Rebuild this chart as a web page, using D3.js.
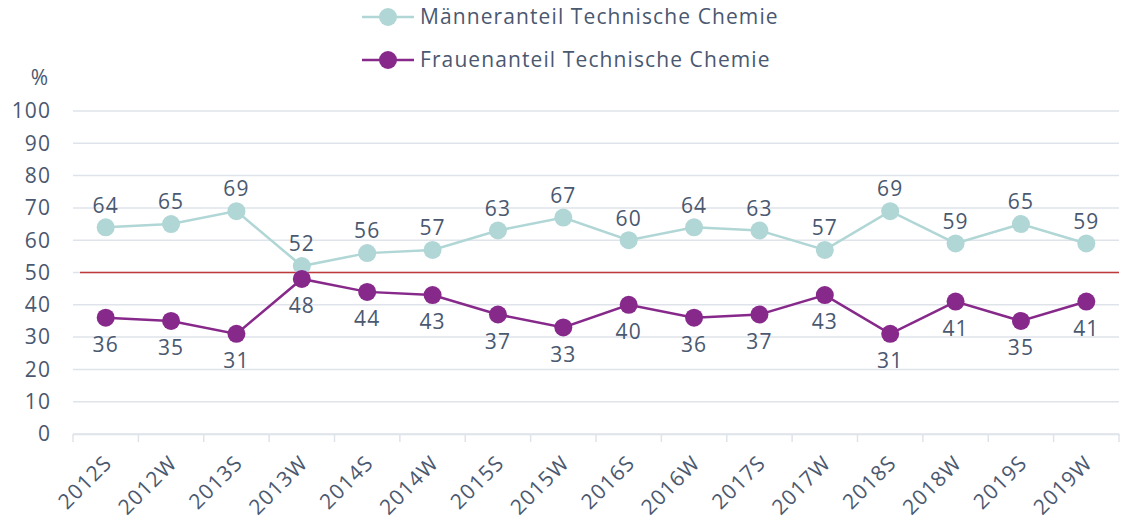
<!DOCTYPE html>
<html>
<head>
<meta charset="utf-8">
<script src="https://cdn.jsdelivr.net/npm/d3@7"></script>
<style>
  body { margin: 0; background: #fff; }
  svg text { font-family: "Open Sans", "Noto Sans", sans-serif; fill: #4a5870; letter-spacing: 1.1px; }
</style>
</head>
<body>
<svg id="chart" width="1121" height="522"></svg>
<script>
const semesters = ["2012S","2012W","2013S","2013W","2014S","2014W","2015S","2015W",
                   "2016S","2016W","2017S","2017W","2018S","2018W","2019S","2019W"];
const maleShare   = [64, 65, 69, 52, 56, 57, 63, 67, 60, 64, 63, 57, 69, 59, 65, 59];
const femaleShare = [36, 35, 31, 48, 44, 43, 37, 33, 40, 36, 37, 43, 31, 41, 35, 41];
const yTicks = [0, 10, 20, 30, 40, 50, 60, 70, 80, 90, 100];
const seriesNames = ["Männeranteil Technische Chemie", "Frauenanteil Technische Chemie"];
const parityLine = 50;

const svg = d3.select("#chart");
const plot = { left: 73, right: 1119, top: 111, bottom: 434 };
const fs = 21;

const x = d3.scaleBand().domain(semesters).range([plot.left, plot.right]);
const y = d3.scaleLinear().domain([0, 100]).range([plot.bottom, plot.top]);

// horizontal gridlines
svg.append("g").selectAll("line").data(yTicks).join("line")
  .attr("x1", plot.left).attr("x2", plot.right)
  .attr("y1", d => y(d)).attr("y2", d => y(d))
  .attr("stroke", "#dfe3ea").attr("stroke-width", 1.5);

// y tick labels
svg.append("g").selectAll("text").data(yTicks).join("text")
  .attr("x", 51).attr("y", d => y(d)).attr("dy", "0.35em")
  .attr("text-anchor", "end").attr("font-size", fs).text(d => d);

svg.append("text").attr("x", 40).attr("y", 78).attr("dy", "0.35em")
  .attr("text-anchor", "middle").attr("font-size", fs).text("%");

// x axis
const xAxis = svg.append("g").attr("transform", `translate(0,${plot.bottom})`)
  .call(d3.axisBottom(x).tickSize(0).tickFormat(""));
xAxis.select(".domain").attr("stroke", "#dfe3ea").attr("stroke-width", 1.5);
const bounds = semesters.map(s => x(s)).concat([plot.right]);
svg.append("g").selectAll("line").data(bounds).join("line")
  .attr("x1", d => d).attr("x2", d => d)
  .attr("y1", plot.bottom).attr("y2", plot.bottom + 8)
  .attr("stroke", "#dfe3ea").attr("stroke-width", 1.5);

svg.append("g").selectAll("text").data(semesters).join("text")
  .attr("transform", d => `translate(${x(d) + x.bandwidth() / 2 - 3},${plot.bottom + 20}) rotate(-45)`)
  .attr("text-anchor", "end").attr("dy", "0.7em").attr("font-size", fs).text(d => d);

// 50% reference line
svg.append("line")
  .attr("x1", plot.left + 7).attr("x2", plot.right)
  .attr("y1", y(parityLine)).attr("y2", y(parityLine))
  .attr("stroke", "#c0393b").attr("stroke-width", 1.5);

const cx = (d, i) => x(semesters[i]) + x.bandwidth() / 2;
const line = d3.line().x(cx).y(d => y(d));

const series = [
  { values: maleShare, color: "#b1d6d6", labelDy: -22 },
  { values: femaleShare, color: "#87298b", labelDy: 27 }
];

series.forEach(s => {
  const g = svg.append("g");
  g.append("path").datum(s.values).attr("d", line)
    .attr("fill", "none").attr("stroke", s.color).attr("stroke-width", 2.5);
  g.selectAll("circle").data(s.values).join("circle")
    .attr("cx", cx).attr("cy", d => y(d)).attr("r", 9).attr("fill", s.color);
  g.selectAll("text").data(s.values).join("text")
    .attr("x", cx).attr("y", d => y(d) + s.labelDy).attr("dy", "0.35em")
    .attr("text-anchor", "middle").attr("font-size", fs).text(d => d);
});

// legend
const legendY = [17, 60];
seriesNames.forEach((name, i) => {
  const g = svg.append("g").attr("transform", `translate(362,${legendY[i]})`);
  g.append("line").attr("x1", 0).attr("x2", 52).attr("y1", 0).attr("y2", 0)
    .attr("stroke", series[i].color).attr("stroke-width", 2.5);
  g.append("circle").attr("cx", 26).attr("cy", 0).attr("r", 9).attr("fill", series[i].color);
  g.append("text").attr("x", 58).attr("y", 0).attr("dy", "0.35em")
    .attr("font-size", fs).text(name);
});
</script>
</body>
</html>
